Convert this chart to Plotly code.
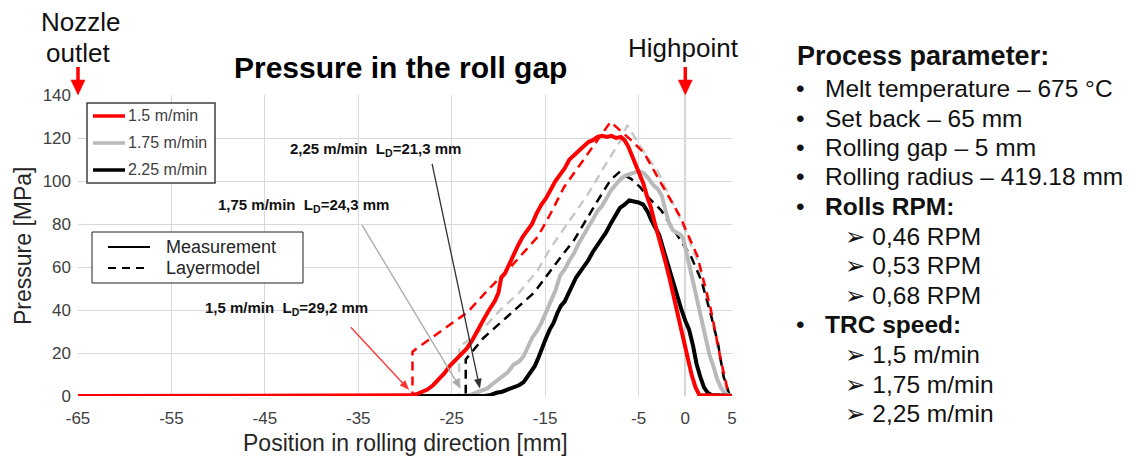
import math
import plotly.graph_objects as go

W, H = 1130, 457

# ---------------- data ----------------
X_TICKS = [-65, -55, -45, -35, -25, -15, -5, 0, 5]
Y_TICKS = [0, 20, 40, 60, 80, 100, 120, 140]
X_RANGE = [-65, 5]
Y_RANGE = [0, 140]

# Measurement 1.5 m/min (red)
RED_MEAS_X = [-65, -30.0, -29.4, -28.8, -28.2, -27.6, -27.0, -26.4, -25.8, -25.2, -24.6, -24.0,
              -23.4, -22.8, -22.2, -21.6, -21.0, -20.4, -20.0, -19.7, -19.3, -18.9, -18.4, -17.9,
              -17.4, -16.9, -16.4, -15.9, -15.4, -14.9, -14.4, -13.9, -13.4, -12.9, -12.4, -11.9,
              -11.4, -10.9, -10.4, -9.9, -9.4, -8.9, -8.4, -7.9, -7.4, -6.9, -6.5, -6.1, -5.7,
              -5.3, -4.9, -4.5, -4.1, -3.7, -3.3, -2.9, -2.5, -2.1, -1.7, -1.3, -0.9, -0.5, -0.1,
              0.3, 0.7, 1.1, 1.5, 5]
RED_MEAS_Y = [0, 0, 0.3, 0.8, 1.8, 3.0, 5.0, 7.5, 10.5, 14.0, 16.5, 19.5,
              22.0, 26.0, 31.0, 35.5, 40.0, 44.0, 48.0, 55.0, 57.0, 61.0, 66.0, 70.0,
              74.0, 77.0, 80.0, 85.0, 89.0, 92.0, 96.0, 100.0, 103.0, 106.0, 110.0, 112.0,
              114.0, 116.5, 118.0, 119.0, 120.5, 121.0, 120.5, 121.0, 120.0, 120.5, 119.0, 116.0, 112.0,
              108.0, 104.0, 99.0, 93.0, 88.0, 81.0, 75.0, 68.0, 62.0, 55.0, 47.0, 39.0, 31.0, 24.0,
              17.0, 9.5, 4.0, 0.5, 0]

# Measurement 1.75 m/min (grey)
GREY_MEAS_X = [-65, -23.8, -23.0, -22.4, -21.8, -21.2, -20.8, -20.2, -19.6, -19.0, -18.4, -17.8,
               -17.3, -16.8, -16.4, -15.9, -15.4, -14.9, -14.4, -13.9, -13.4, -12.9, -12.4, -11.9,
               -11.4, -10.9, -10.4, -9.9, -9.4, -8.9, -8.4, -7.9, -7.4, -6.9, -6.4, -5.9, -5.4,
               -4.9, -4.4, -3.9, -3.4, -2.9, -2.5, -2.1, -1.7, -1.3, -0.9, -0.5, -0.2, 0.2, 0.6,
               1.0, 1.4, 1.8, 2.2, 2.6, 3.0, 3.4, 3.8, 4.2, 4.6, 5]
GREY_MEAS_Y = [0, 0, 0.5, 1.5, 2.5, 3.5, 5.0, 7.0, 9.0, 11.0, 14.5, 16.0,
               18.5, 23.0, 27.0, 30.0, 34.0, 39.0, 44.0, 49.0, 56.0, 59.0, 63.0, 66.5,
               71.0, 75.0, 78.5, 82.0, 86.0, 88.5, 92.0, 96.0, 98.5, 101.0, 102.5, 103.5, 104.0,
               104.5, 103.5, 101.0, 98.0, 96.0, 93.0, 86.0, 80.0, 77.0, 76.0, 75.0, 73.0, 65.0, 57.0,
               50.0, 42.0, 33.0, 25.0, 19.0, 14.0, 8.0, 4.0, 1.5, 0.5, 0]

# Measurement 2.25 m/min (black)
BLACK_MEAS_X = [-65, -21.5, -20.8, -20.2, -19.6, -19.0, -18.4, -17.8, -17.3, -16.9, -16.5, -16.1,
                -15.7, -15.3, -14.9, -14.5, -14.1, -13.7, -13.3, -12.9, -12.5, -12.1, -11.7, -11.3,
                -10.9, -10.4, -9.9, -9.4, -9.0, -8.5, -8.0, -7.5, -7.0, -6.5, -6.0, -5.5, -5.0,
                -4.5, -4.0, -3.6, -3.2, -2.8, -2.4, -2.0, -1.6, -1.2, -0.8, -0.4, 0.0, 0.4, 0.8,
                1.2, 1.6, 2.0, 2.4, 2.8, 5]
BLACK_MEAS_Y = [0, 0, 0.5, 1.5, 2.0, 3.0, 4.0, 5.0, 6.5, 9.0, 12.0, 14.0,
                18.0, 23.0, 27.0, 31.0, 34.0, 38.5, 42.0, 44.0, 48.0, 52.0, 55.0, 57.5,
                60.0, 63.0, 67.0, 70.0, 72.5, 76.0, 80.0, 84.0, 87.5, 89.0, 91.0, 90.5, 90.0,
                89.0, 85.5, 81.5, 78.5, 75.0, 69.0, 63.0, 57.5, 51.0, 45.0, 40.0, 35.0, 31.0, 24.0,
                15.0, 9.0, 4.0, 1.5, 0.5, 0]

# Layer model curves
RED_MODEL_X = [-65, -29.2, -29.2, -28.8, -27.0, -25.0, -23.3, -21.2, -18.7, -15.8, -14.4, -13.0,
               -11.2, -9.4, -8.0, -5.8, -4.4, -2.6, -0.5, 1.3, 2.7, 3.8, 4.6, 5]
RED_MODEL_Y = [0, 0, 20.5, 22.0, 27.5, 33.5, 39.0, 49.0, 60.0, 74.0, 85.0, 97.0,
               108.0, 119.0, 127.5, 119.0, 113.0, 99.0, 83.0, 65.0, 41.0, 17.0, 1.5, 0]

GREY_MODEL_X = [-65, -24.2, -24.2, -23.5, -21.5, -19.8, -17.8, -15.8, -14.4, -12.6, -10.4, -8.7,
                -6.9, -6.2, -4.8, -2.9, -0.5, 1.3, 2.7, 3.8, 4.5, 5]
GREY_MODEL_Y = [0, 0, 23.0, 25.0, 32.0, 40.0, 48.0, 58.5, 69.0, 80.0, 94.0, 106.5,
                119.0, 126.0, 116.0, 104.0, 82.0, 63.0, 39.0, 15.0, 1.0, 0]

BLACK_MODEL_X = [-65, -23.5, -23.5, -21.6, -19.8, -18.0, -16.2, -13.0, -11.9, -9.5, -8.0, -7.1,
                 -5.8, -4.8, -4.0, -2.6, -0.5, 0.6, 1.7, 2.7, 3.5, 4.1, 4.7, 5]
BLACK_MODEL_Y = [0, 0, 17.0, 27.0, 34.0, 41.0, 48.0, 66.5, 72.5, 90.0, 100.5, 104.0,
                 101.0, 97.0, 92.5, 86.5, 72.5, 65.0, 54.0, 38.5, 24.5, 9.0, 1.0, 0]

SPEED_LABELS = ["1.5 m/min", "1.75 m/min", "2.25 m/min"]
LD_LABELS = ["1,5 m/min", "1,75 m/min", "2,25 m/min"]
LD_VALUES = ["29,2 mm", "24,3 mm", "21,3 mm"]
# callout arrow tip / tail positions (data units)
LD_TIP_X = [-29.6, -24.1, -22.0]
LD_TIP_Y = [3.0, 3.7, 3.7]
LD_TAIL_X = [-35.8, -34.6, -27.1]
LD_TAIL_Y = [32.0, 79.5, 108.0]
STYLE_LABELS = ["Measurement", "Layermodel"]

PARAM_TITLE = "Process parameter:"
PARAM_LINES = ["Melt temperature – 675 °C", "Set back – 65 mm", "Rolling gap – 5 mm",
               "Rolling radius – 419.18 mm"]
RPM_TITLE = "Rolls RPM:"
RPM_VALUES = ["0,46 RPM", "0,53 RPM", "0,68 RPM"]
SPEED_TITLE = "TRC speed:"
SPEED_VALUES = ["1,5 m/min", "1,75 m/min", "2,25 m/min"]

# ---------------- styling / layout ----------------
FONT = "Liberation Sans, Arial, sans-serif"
RED = "#ff0000"
GREY = "#b9b9b9"
GREY_DASH = "#c8c8c8"
BLACK = "#000000"
TXT = "#404040"

PLOT_L, PLOT_R, PLOT_T, PLOT_B = 78, 732, 95, 396


def px(x):
    return x / W


def py(y):
    return 1 - y / H


def data_to_pix(xv, yv):
    xp = PLOT_L + (xv - X_RANGE[0]) / (X_RANGE[1] - X_RANGE[0]) * (PLOT_R - PLOT_L)
    yp = PLOT_B - (yv - Y_RANGE[0]) / (Y_RANGE[1] - Y_RANGE[0]) * (PLOT_B - PLOT_T)
    return xp, yp


def arrow_shapes(x0, y0, x1, y1, color, width, head_len, head_w):
    """arrow in pixel coords from tail (x0,y0) to tip (x1,y1)"""
    dx, dy = x1 - x0, y1 - y0
    L = math.hypot(dx, dy)
    ux, uy = dx / L, dy / L
    bx, by = x1 - ux * head_len, y1 - uy * head_len
    nx, ny = -uy, ux
    out = [dict(type="line", xref="paper", yref="paper",
                x0=px(x0), y0=py(y0), x1=px(bx + ux * 1.0), y1=py(by + uy * 1.0),
                line=dict(color=color, width=width))]
    p1 = (bx + nx * head_w / 2, by + ny * head_w / 2)
    p2 = (bx - nx * head_w / 2, by - ny * head_w / 2)
    path = "M %.5f %.5f L %.5f %.5f L %.5f %.5f Z" % (
        px(x1), py(y1), px(p1[0]), py(p1[1]), px(p2[0]), py(p2[1]))
    out.append(dict(type="path", xref="paper", yref="paper", path=path,
                    fillcolor=color, line=dict(color=color, width=0.5)))
    return out


fig = go.Figure()

dash = "9px,6px"
for xs, ys, col in [(GREY_MODEL_X, GREY_MODEL_Y, GREY_DASH),
                    (BLACK_MODEL_X, BLACK_MODEL_Y, BLACK),
                    (RED_MODEL_X, RED_MODEL_Y, RED)]:
    fig.add_trace(go.Scatter(x=xs, y=ys, mode="lines", showlegend=False,
                             line=dict(color=col, width=2.5, dash=dash)))

for xs, ys, col in [(GREY_MEAS_X, GREY_MEAS_Y, GREY),
                    (BLACK_MEAS_X, BLACK_MEAS_Y, BLACK),
                    (RED_MEAS_X, RED_MEAS_Y, RED)]:
    fig.add_trace(go.Scatter(x=xs, y=ys, mode="lines", showlegend=False,
                             line=dict(color=col, width=4)))

shapes = []
annotations = []

# Highpoint vertical line
shapes.append(dict(type="line", xref="x", yref="y", x0=0, x1=0, y0=0, y1=140,
                   line=dict(color="#a0a0a0", width=1.5), layer="below"))

# Legend 1 (colours)
shapes.append(dict(type="rect", xref="paper", yref="paper",
                   x0=px(87), x1=px(215), y0=py(183), y1=py(103),
                   line=dict(color="#404040", width=1.5), fillcolor="white"))
for i, (lab, col) in enumerate(zip(SPEED_LABELS, [RED, GREY, BLACK])):
    yy = 116 + 27 * i
    shapes.append(dict(type="line", xref="paper", yref="paper",
                       x0=px(93), x1=px(125), y0=py(yy), y1=py(yy),
                       line=dict(color=col, width=3.5)))
    annotations.append(dict(xref="paper", yref="paper", x=px(126), y=py(yy),
                            xanchor="left", yanchor="middle", showarrow=False, text=lab,
                            font=dict(family=FONT, size=16, color=TXT)))

# Legend 2 (line styles)
shapes.append(dict(type="rect", xref="paper", yref="paper",
                   x0=px(92), x1=px(303), y0=py(283), y1=py(232),
                   line=dict(color="#202020", width=1), fillcolor="white"))
for i, (lab, dsh) in enumerate(zip(STYLE_LABELS, ["solid", "8px,6px"])):
    yy = 247 + 21 * i
    shapes.append(dict(type="line", xref="paper", yref="paper",
                       x0=px(108), x1=px(150), y0=py(yy), y1=py(yy),
                       line=dict(color=BLACK, width=2, dash=dsh)))
    annotations.append(dict(xref="paper", yref="paper", x=px(164), y=py(yy),
                            xanchor="left", yanchor="middle", showarrow=False, text=lab,
                            font=dict(family=FONT, size=18, color="#262626")))

# L_D callouts
TEXT_POS = [(286, 308), (303, 205), (375, 150)]
CALLOUT_COL = ["#ff3333", "#a8a8a8", "#303030"]
for i in range(3):
    tx, ty = TEXT_POS[i]
    txt = "<b>%s  L<sub>D</sub>=%s</b>" % (LD_LABELS[i], LD_VALUES[i])
    annotations.append(dict(xref="paper", yref="paper", x=px(tx), y=py(ty),
                            xanchor="center", yanchor="middle", showarrow=False, text=txt,
                            font=dict(family=FONT, size=15, color="#111111")))
    x0, y0 = data_to_pix(LD_TAIL_X[i], LD_TAIL_Y[i])
    x1, y1 = data_to_pix(LD_TIP_X[i], LD_TIP_Y[i])
    shapes += arrow_shapes(x0, y0, x1, y1, CALLOUT_COL[i], 1.3, 9, 7)

# red marker arrows (nozzle outlet at x=-65, highpoint at x=0)
for xv in [X_TICKS[0], 0]:
    xp, _ = data_to_pix(xv, 0)
    shapes += arrow_shapes(xp, 67, xp, 95, RED, 3.5, 15, 14)

# top labels
annotations += [
    dict(xref="paper", yref="paper", x=px(80), y=py(22), text="Nozzle", showarrow=False,
         xanchor="center", yanchor="middle", font=dict(family=FONT, size=26, color="#111111")),
    dict(xref="paper", yref="paper", x=px(78), y=py(53), text="outlet", showarrow=False,
         xanchor="center", yanchor="middle", font=dict(family=FONT, size=26, color="#111111")),
    dict(xref="paper", yref="paper", x=px(683), y=py(48), text="Highpoint", showarrow=False,
         xanchor="center", yanchor="middle", font=dict(family=FONT, size=26, color="#111111")),
    dict(xref="paper", yref="paper", x=px(401), y=py(68), text="<b>Pressure in the roll gap</b>",
         showarrow=False, xanchor="center", yanchor="middle",
         font=dict(family=FONT, size=30, color="#000000")),
    # axis titles
    dict(xref="paper", yref="paper", x=px(405), y=py(443),
         text="Position in rolling direction [mm]", showarrow=False,
         xanchor="center", yanchor="middle", font=dict(family=FONT, size=23, color="#262626")),
    dict(xref="paper", yref="paper", x=px(23), y=py(246),
         text="Pressure [MPa]", showarrow=False, textangle=-90,
         xanchor="center", yanchor="middle", font=dict(family=FONT, size=23, color="#262626")),
]

# right-hand parameter text
RT = "#111111"
annotations.append(dict(xref="paper", yref="paper", x=px(795), y=py(56),
                        text="<b>%s</b>" % PARAM_TITLE, showarrow=False,
                        xanchor="left", yanchor="middle",
                        font=dict(family=FONT, size=27, color=RT)))
rows = []
ycur = 89
for t in PARAM_LINES:
    rows.append(("bullet", t, ycur))
    ycur += 29.3
rows.append(("bullet", "<b>%s</b>" % RPM_TITLE, ycur))
ycur += 30
for t in RPM_VALUES:
    rows.append(("sub", t, ycur))
    ycur += 29.5
rows.append(("bullet", "<b>%s</b>" % SPEED_TITLE, ycur))
ycur += 30
for t in SPEED_VALUES:
    rows.append(("sub", t, ycur))
    ycur += 29.3

for kind, t, yy in rows:
    if kind == "bullet":
        annotations.append(dict(xref="paper", yref="paper", x=px(794), y=py(yy),
                                text="•   " + t,
                                showarrow=False, xanchor="left", yanchor="middle",
                                font=dict(family=FONT, size=24.5, color=RT)))
    else:
        annotations.append(dict(xref="paper", yref="paper", x=px(843), y=py(yy),
                                text="➢ " + t,
                                showarrow=False, xanchor="left", yanchor="middle",
                                font=dict(family="Liberation Sans, DejaVu Sans, sans-serif",
                                          size=24.5, color=RT)))

fig.update_layout(
    width=W, height=H, autosize=False,
    margin=dict(l=0, r=0, t=0, b=0, pad=0),
    paper_bgcolor="white", plot_bgcolor="white",
    font=dict(family=FONT),
    shapes=shapes, annotations=annotations,
    xaxis=dict(domain=[px(PLOT_L), px(PLOT_R)], range=X_RANGE, tickvals=X_TICKS,
               ticktext=[str(v) for v in X_TICKS], automargin=False,
               showgrid=True, gridcolor="#d9d9d9", gridwidth=1, zeroline=False,
               showline=False, ticks="", ticklabelstandoff=10,
               tickfont=dict(family=FONT, size=17, color=TXT), fixedrange=True),
    yaxis=dict(domain=[py(PLOT_B), py(PLOT_T)], range=Y_RANGE, tickvals=Y_TICKS,
               automargin=False,
               showgrid=True, gridcolor="#d9d9d9", gridwidth=1, zeroline=False,
               showline=False, ticks="", ticklabelstandoff=6,
               tickfont=dict(family=FONT, size=17, color=TXT), fixedrange=True),
)

fig.write_html("out.html")
